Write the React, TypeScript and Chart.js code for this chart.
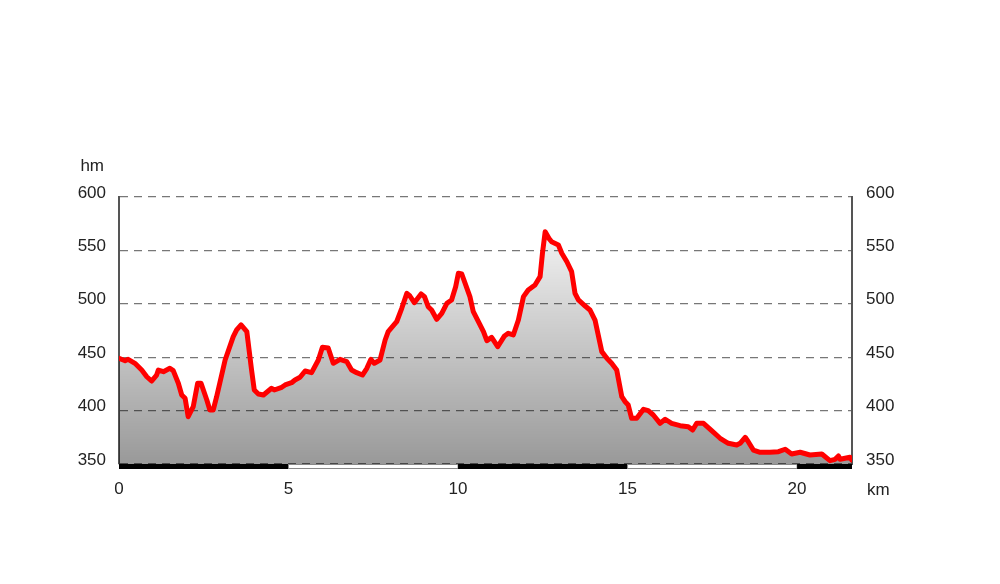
import React, { useEffect, useRef } from "react";
import { Chart, registerables } from "chart.js";

Chart.register(...registerables);

const distanceKm = [
  0, 0.18, 0.27, 0.47, 0.67, 0.82, 0.96, 1.11, 1.16, 1.31, 1.5, 1.6, 1.75, 1.85, 1.95, 2.04, 2.19, 2.32, 2.42,
  2.59, 2.68, 2.78, 2.88, 3.13, 3.37, 3.47, 3.6, 3.77, 3.91, 3.99, 4.11, 4.26, 4.5, 4.58, 4.8, 4.9, 5.09, 5.19,
  5.34, 5.49, 5.68, 5.88, 6.0, 6.17, 6.32, 6.52, 6.72, 6.86, 7.01, 7.18, 7.31, 7.43, 7.53, 7.7, 7.85, 7.94,
  8.19, 8.34, 8.49, 8.58, 8.71, 8.91, 9.01, 9.12, 9.22, 9.37, 9.52, 9.67, 9.81, 9.93, 10.01, 10.11, 10.35,
  10.45, 10.6, 10.75, 10.85, 10.99, 11.17, 11.37, 11.48, 11.63, 11.78, 11.93, 12.07, 12.27, 12.42, 12.49,
  12.57, 12.68, 12.76, 12.96, 13.06, 13.21, 13.35, 13.45, 13.55, 13.75, 13.89, 14.04, 14.24, 14.39, 14.53,
  14.68, 14.83, 14.93, 15.02, 15.12, 15.27, 15.47, 15.61, 15.76, 15.96, 16.11, 16.3, 16.55, 16.79, 16.92,
  17.04, 17.24, 17.48, 17.73, 17.97, 18.22, 18.32, 18.47, 18.56, 18.71, 18.91, 19.2, 19.45, 19.65, 19.84,
  20.09, 20.38, 20.73, 20.97, 21.12, 21.22, 21.27, 21.56, 21.61,
];

const elevationM = [
  449, 446.7, 448, 444.3, 438, 431.7, 427.7, 433.3, 438, 436.4, 439.6, 437.4, 425.6, 414.6, 411.5, 394.3, 403.7,
  425.6, 425.6, 409.9, 400.6, 400.6, 413, 447.4, 469.2, 475.5, 480.2, 473.9, 438, 419.3, 415.5, 414.6, 420.9,
  419.3, 421.8, 424, 426.1, 428.7, 431.2, 437.1, 435.5, 447.4, 459.3, 458.6, 444.3, 448, 445.8, 438, 435.5,
  433.3, 439.6, 448, 444.3, 447.4, 466.1, 473.9, 483.2, 495.8, 509.8, 507.3, 501, 509.2, 506.7, 497.3, 494.2,
  485.5, 491.1, 500.5, 503.6, 516, 528.6, 527.9, 506.7, 492.6, 483.2, 473.9, 465.5, 468.6, 459.8, 469.9,
  472.4, 470.8, 484.8, 506.7, 512.9, 517.6, 525.4, 547.3, 567.5, 561.3, 558.1, 555.1, 547.3, 539.4, 530.1,
  509.8, 503.6, 497.9, 494.2, 484.8, 455.2, 449, 444.3, 438, 413, 408.3, 405.2, 392.8, 392.8, 401.2, 399.9,
  395.9, 388.1, 391.9, 388.1, 385.9, 384.9, 381.8, 388.1, 388.1, 381.2, 374.1, 369.4, 367.8, 369.4, 375,
  370.9, 363.1, 361, 361, 361.5, 363.8, 359.4, 361, 358.4, 359.4, 353.1, 354.4, 357.5, 354.4, 356.3, 353.8,
];

const totalKm = 21.62;
const elevMin = 350;
const elevMax = 600;
const elevStep = 50;
const kmTicks = [0, 5, 10, 15, 20];
const bandBreaks = [0, 5, 10, 15, 20, totalKm];
const yUnit = "hm";
const xUnit = "km";

const FONT = '"Liberation Sans", Arial, sans-serif';

const decorPlugin = {
  id: "decor",
  afterDatasetsDraw(chart: any) {
    const { ctx, chartArea, scales } = chart;
    const x = scales.x;
    const bandTop = chartArea.bottom;
    const bandH = 5;
    ctx.save();
    for (let i = 0; i < bandBreaks.length - 1; i++) {
      const x1 = x.getPixelForValue(bandBreaks[i]);
      const x2 = x.getPixelForValue(bandBreaks[i + 1]);
      if (i % 2 === 0) {
        ctx.fillStyle = "#000";
        ctx.fillRect(x1, bandTop, x2 - x1, bandH);
      } else {
        ctx.fillStyle = "#fff";
        ctx.fillRect(x1, bandTop, x2 - x1, bandH);
        ctx.strokeStyle = "#888";
        ctx.lineWidth = 1;
        ctx.strokeRect(x1, bandTop + 0.5, x2 - x1, bandH - 1);
      }
    }
    ctx.restore();
  },
  afterDraw(chart: any) {
    const { ctx, chartArea } = chart;
    ctx.save();
    ctx.font = `17px ${FONT}`;
    ctx.fillStyle = "#222";
    ctx.textBaseline = "alphabetic";
    ctx.textAlign = "right";
    ctx.fillText(yUnit, chartArea.left - 15, chartArea.top - 26);
    ctx.textAlign = "left";
    ctx.fillText(xUnit, chartArea.right + 15, chartArea.bottom + 31);
    ctx.restore();
  },
};

export default function App() {
  const ref = useRef<HTMLCanvasElement | null>(null);

  useEffect(() => {
    if (!ref.current) return;
    const points = distanceKm.map((d, i) => ({ x: d, y: elevationM[i] }));
    const tickFont = { family: FONT, size: 17 };
    const chart = new Chart(ref.current, {
      type: "line",
      data: {
        datasets: [
          {
            data: points,
            borderColor: "#ff0000",
            borderWidth: 5,
            borderJoinStyle: "round",
            borderCapStyle: "round",
            pointRadius: 0,
            tension: 0,
            fill: "start",
            backgroundColor: (c: any) => {
              const { chart } = c;
              const area = chart.chartArea;
              if (!area) return "rgba(0,0,0,0.2)";
              const g = chart.ctx.createLinearGradient(0, area.top, 0, area.bottom);
              g.addColorStop(0, "rgba(0,0,0,0)");
              g.addColorStop(1, "rgba(0,0,0,0.4)");
              return g;
            },
          },
        ],
      },
      options: {
        animation: false,
        responsive: false,
        events: [],
        layout: { padding: { top: 197, left: 0, right: 0, bottom: 0 } },
        plugins: { legend: { display: false }, tooltip: { enabled: false } },
        scales: {
          x: {
            type: "linear",
            min: 0,
            max: totalKm,
            grid: { display: false, drawTicks: false },
            border: { display: false },
            afterBuildTicks: (s: any) => {
              s.ticks = kmTicks.map((v) => ({ value: v }));
            },
            ticks: {
              font: tickFont,
              color: "#222",
              padding: 15,
              maxRotation: 0,
              autoSkip: false,
            },
            afterFit: (s: any) => {
              s.height = 120;
            },
          },
          y: {
            position: "left",
            min: elevMin,
            max: elevMax,
            grid: { color: "#777", lineWidth: 1.3, drawTicks: false },
            border: { display: true, color: "#555", width: 2, dash: [8, 6] },
            ticks: { stepSize: elevStep, font: tickFont, color: "#222", padding: 13, labelOffset: -4 },
            afterFit: (s: any) => {
              s.width = 119;
            },
          },
          y2: {
            position: "right",
            min: elevMin,
            max: elevMax,
            grid: { display: false, drawTicks: false },
            border: { display: true, color: "#555", width: 2 },
            ticks: { stepSize: elevStep, font: tickFont, color: "#222", padding: 14, labelOffset: -4 },
            afterFit: (s: any) => {
              s.width = 148;
            },
          },
        },
      } as any,
      plugins: [decorPlugin],
    });
    return () => chart.destroy();
  }, []);

  return (
    <div style={{ position: "absolute", left: 0, top: 0, width: 1000, height: 584, background: "#fff" }}>
      <canvas ref={ref} width={1000} height={584} />
    </div>
  );
}
